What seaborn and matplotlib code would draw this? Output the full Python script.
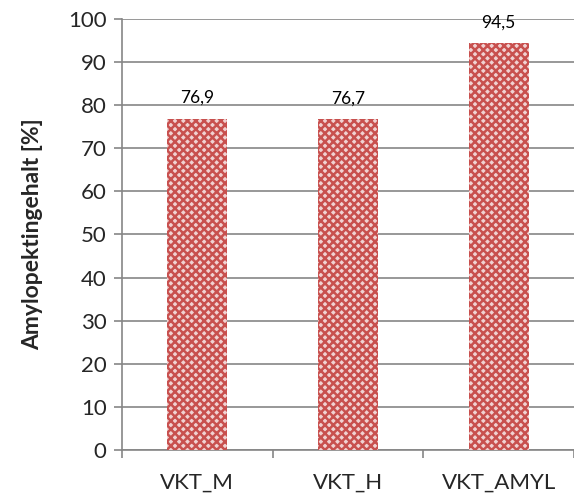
import matplotlib
matplotlib.use("Agg")
import matplotlib.pyplot as plt
import seaborn as sns
import pandas as pd

categories = ["VKT_M", "VKT_H", "VKT_AMYL"]
values = [76.9, 76.7, 94.5]
value_labels = ["76,9", "76,7", "94,5"]
y_ticks = [0, 10, 20, 30, 40, 50, 60, 70, 80, 90, 100]

sns.set_theme(style="white")
plt.rcParams["font.family"] = ["Lato", "DejaVu Sans"]
plt.rcParams["hatch.linewidth"] = 1.8
plt.rcParams["hatch.color"] = "#c8504e"

df = pd.DataFrame({"Sorte": categories, "Wert": values})

W, H = 574, 497
fig = plt.figure(figsize=(W / 100, H / 100), dpi=100)
ax = fig.add_axes([122 / W, (H - 450) / H, (W - 122) / W, 431 / H])

sns.barplot(data=df, x="Sorte", y="Wert", ax=ax, width=0.4,
            color="#f0d2d2", saturation=1, edgecolor="none", zorder=3)
for p in ax.patches:
    p.set_hatch("xxxx")
    p.set_facecolor("#f0d2d2")
    p.set_edgecolor("#c8504e")
    p.set_linewidth(0)

for i, (v, lab) in enumerate(zip(values, value_labels)):
    ax.annotate(lab, (i, v), xytext=(0, 9), textcoords="offset points",
                ha="center", va="bottom", fontsize=12.5, color="#000000")

ax.set_ylim(0, 100)
ax.set_yticks(y_ticks)
ax.set_xlim(-0.5, 2.5 - 4 / 152)
ax.yaxis.grid(True, color="#868686", linewidth=1.2, zorder=0)
ax.set_axisbelow(True)

ax.tick_params(axis="y", which="major", length=6, width=1.2, color="#868686",
               direction="out", labelsize=16, pad=5, left=True)
ax.tick_params(axis="x", which="major", length=0, labelsize=16, pad=16)
ax.set_xticks([-0.5, 0.5, 1.5, 2.5], minor=True)
ax.tick_params(axis="x", which="minor", length=6, width=1.2, color="#868686",
               direction="out", bottom=True)

for s in ["top", "right"]:
    ax.spines[s].set_visible(False)
for s in ["left", "bottom"]:
    ax.spines[s].set_color("#868686")
    ax.spines[s].set_linewidth(1.2)

ax.set_xlabel("")
ax.set_ylabel("Amylopektingehalt [%]", fontsize=16.5, fontweight="bold", labelpad=18)

fig.savefig("out.png", dpi=100)
